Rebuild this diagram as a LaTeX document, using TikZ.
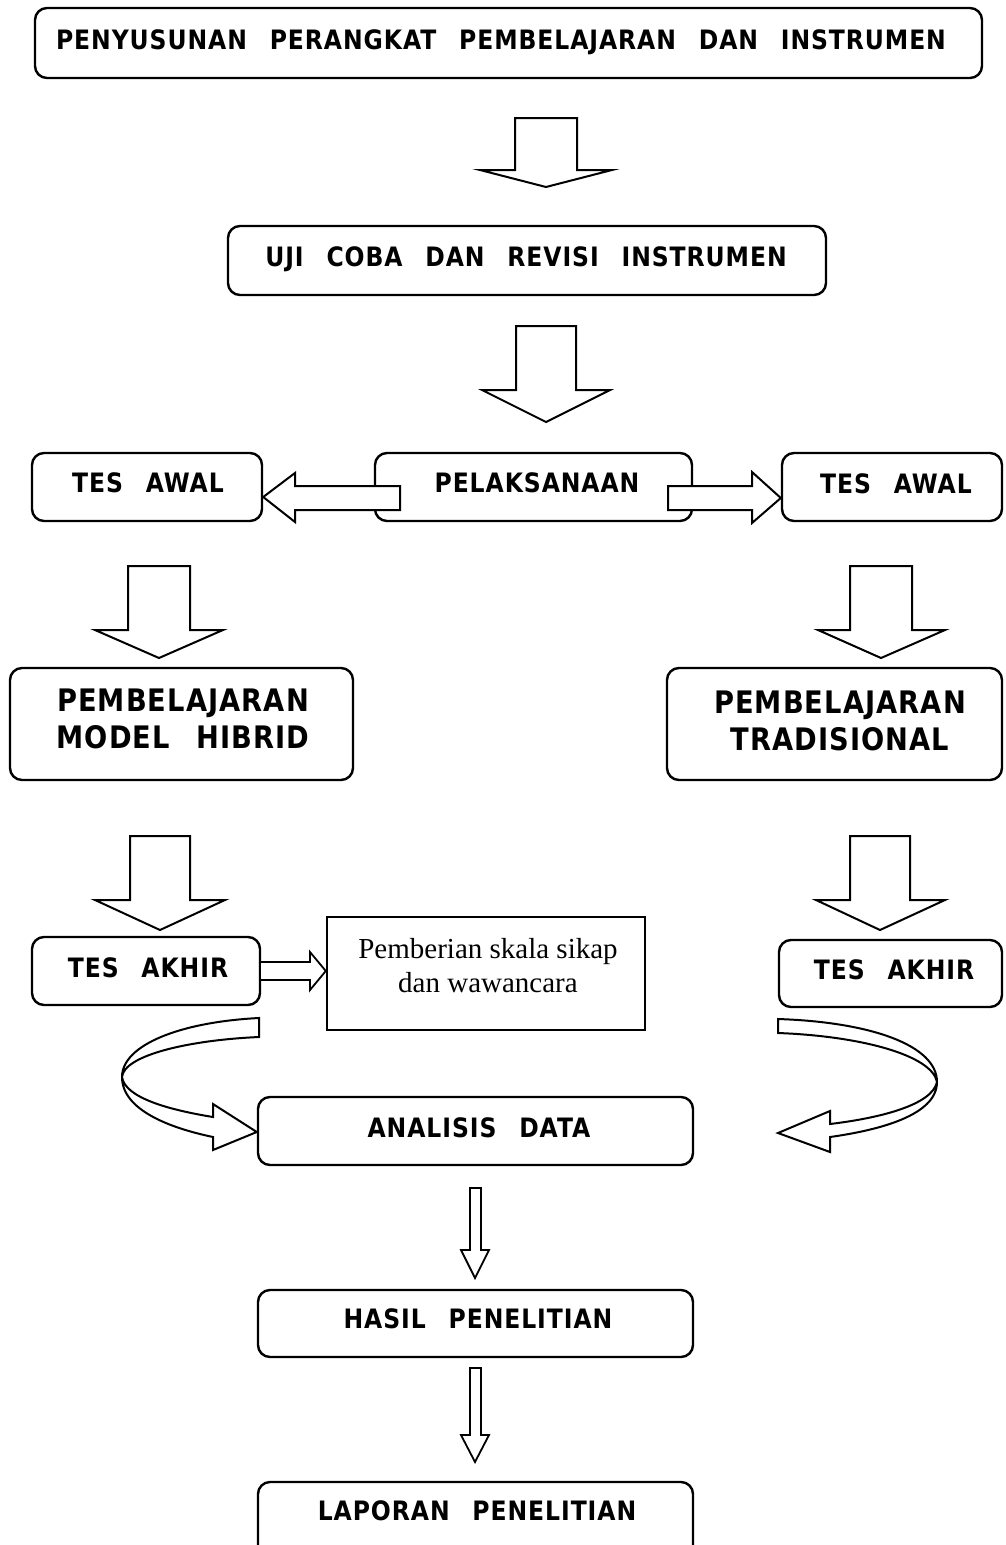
\documentclass[tikz,border=0pt]{standalone}
\usepackage{fontspec}
\newfontfamily\vb[LetterSpace=3.5,WordSpace=2.5,FakeStretch=0.88]{DejaVu Sans}
\newfontfamily\tms{Liberation Serif}
\begin{document}
\begin{tikzpicture}[x=1pt,y=-1pt,
  box/.style={draw,line width=2.4pt,rounded corners=12pt,inner sep=0pt},
  sqbox/.style={draw,line width=2.4pt,inner sep=0pt},
  lbl/.style={font=\vb\bfseries\fontsize{26.7}{30}\selectfont,inner sep=0pt,anchor=base},
  biglbl/.style={font=\vb\bfseries\fontsize{31}{36}\selectfont,inner sep=0pt,anchor=base},
  serlbl/.style={font=\tms\fontsize{29}{34}\selectfont,inner sep=0pt,anchor=base},
  barrow/.style={draw,fill=white,line width=2pt,line join=miter},
  tarrow/.style={draw,fill=white,line width=1.8pt,line join=miter}]
\clip (0,0) rectangle (1005,1545);
\fill[white] (0,0) rectangle (1005,1545);

% boxes
\node[box,minimum width=947pt,minimum height=70pt] (top) at (508.5,43) {};
\node[box,minimum width=598pt,minimum height=69pt] (uji) at (527,260.5) {};
\node[box,minimum width=230pt,minimum height=68pt] (awalL) at (147,487) {};
\node[box,minimum width=317pt,minimum height=68pt] (pel) at (533.5,487) {};
\node[box,minimum width=220pt,minimum height=68pt] (awalR) at (892,487) {};
\node[box,minimum width=343pt,minimum height=112pt] (hib) at (181.5,724) {};
\node[box,minimum width=335pt,minimum height=112pt] (trad) at (834.5,724) {};
\node[box,minimum width=228pt,minimum height=68pt] (akhL) at (146,971) {};
\node[sqbox,minimum width=318pt,minimum height=113pt] (skala) at (486,973.5) {};
\node[box,minimum width=223pt,minimum height=67pt] (akhR) at (890.5,973.5) {};
\node[box,minimum width=435pt,minimum height=68pt] (anal) at (475.5,1131) {};
\node[box,minimum width=435pt,minimum height=67pt] (hasil) at (475.5,1323.5) {};
\node[box,minimum width=435pt,minimum height=80pt] (lap) at (475.5,1522) {};

% texts
\node[lbl] (tTop) at (501,49.5) {PENYUSUNAN PERANGKAT PEMBELAJARAN DAN INSTRUMEN};
\node[lbl] (tUji) at (526,266) {UJI COBA DAN REVISI INSTRUMEN};
\node[lbl] (tAwalL) at (148,492) {TES AWAL};
\node[lbl] (tPel) at (537,492) {PELAKSANAAN};
\node[lbl] (tAwalR) at (896,493) {TES AWAL};
\node[biglbl] (tHib1) at (183,711.5) {PEMBELAJARAN};
\node[biglbl] (tHib2) at (183,748.5) {MODEL HIBRID};
\node[biglbl] (tTrad1) at (840,713.5) {PEMBELAJARAN};
\node[biglbl] (tTrad2) at (840,750.5) {TRADISIONAL};
\node[lbl] (tAkhL) at (148,977) {TES AKHIR};
\node[lbl] (tAkhR) at (894,979) {TES AKHIR};
\node[serlbl] (tSk1) at (488,958) {Pemberian skala sikap};
\node[serlbl] (tSk2) at (488,992) {dan wawancara};
\node[lbl] (tAnal) at (479,1137) {ANALISIS DATA};
\node[lbl] (tHasil) at (478,1328) {HASIL PENELITIAN};
\node[lbl] (tLap) at (477,1520) {LAPORAN PENELITIAN};

% big down arrows
\draw[barrow] (515,118) -- (577,118) -- (577,170) -- (612,170) -- (546,187) -- (480,170) -- (515,170) -- cycle;
\draw[barrow] (516,326) -- (576,326) -- (576,390) -- (610,390) -- (546,422) -- (482,390) -- (516,390) -- cycle;
\draw[barrow] (128,566) -- (190,566) -- (190,630) -- (223,630) -- (159,658) -- (95,630) -- (128,630) -- cycle;
\draw[barrow] (850,566) -- (912,566) -- (912,630) -- (945,630) -- (881,658) -- (818,630) -- (850,630) -- cycle;
\draw[barrow] (130,836) -- (190,836) -- (190,900) -- (225,900) -- (160,930) -- (95,900) -- (130,900) -- cycle;
\draw[barrow] (850,836) -- (910,836) -- (910,900) -- (945,900) -- (880,930) -- (816,900) -- (850,900) -- cycle;

% horizontal arrows from PELAKSANAAN
\draw[barrow] (400,486) -- (295,486) -- (295,473) -- (awalL.east |- 0,497) -- (295,522) -- (295,510) -- (400,510) -- cycle;
\draw[barrow] (668,486) -- (752,486) -- (752,472) -- (awalR.west |- 0,498) -- (752,523) -- (752,510) -- (668,510) -- cycle;

% double arrow to skala
\draw[tarrow] (akhL.east |- 0,962) -- (310,962) -- (310,952) -- (skala.west |- 0,971) -- (310,990) -- (310,980) -- (akhL.east |- 0,980);

% curved arrows
\draw[barrow] (259,1018) .. controls (180,1022) and (122,1045) .. (122,1077)
  .. controls (122,1110) and (170,1128) .. (213,1137)
  -- (213,1150) -- (anal.west |- 0,1132) -- (213,1104) -- (213,1117)
  .. controls (170,1110) and (125,1098) .. (122,1077)
  .. controls (124,1055) and (190,1040) .. (259,1037) -- cycle;
\draw[barrow] (778,1019) .. controls (870,1022) and (937,1045) .. (937,1082)
  .. controls (937,1115) and (880,1130) .. (830,1137)
  -- (830,1152) -- (778,1133) -- (830,1111) -- (830,1124)
  .. controls (880,1118) and (932,1105) .. (937,1082)
  .. controls (932,1055) and (860,1036) .. (778,1033) -- cycle;

% thin down arrows
\draw[tarrow] (470,1188) -- (481,1188) -- (481,1250) -- (489,1250) -- (475,1278) -- (461,1250) -- (470,1250) -- cycle;
\draw[tarrow] (470,1368) -- (481,1368) -- (481,1435) -- (489,1435) -- (475,1462) -- (461,1435) -- (470,1435) -- cycle;
\end{tikzpicture}
\end{document}
